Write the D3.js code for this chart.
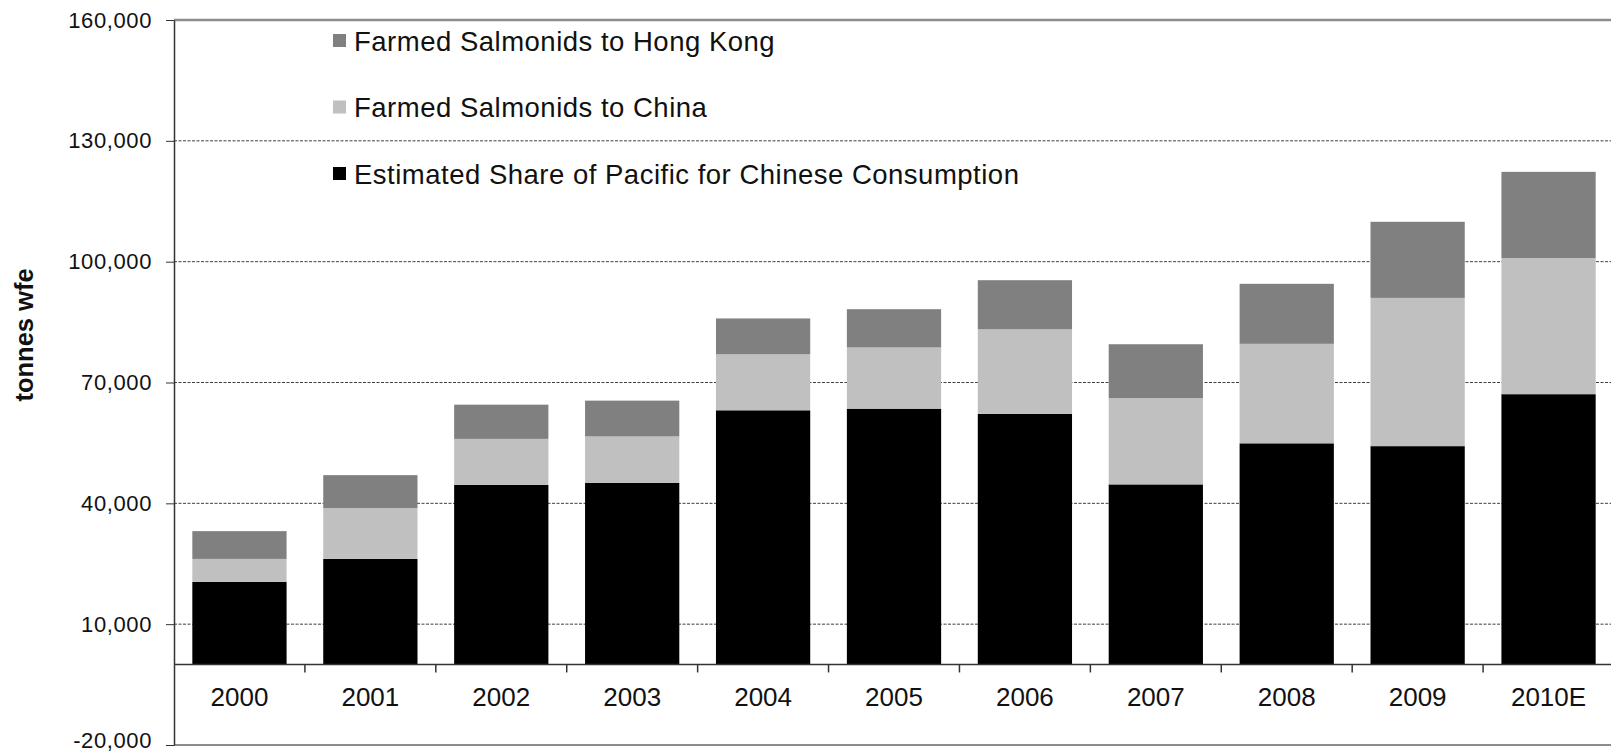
<!DOCTYPE html>
<html>
<head>
<meta charset="utf-8">
<script src="https://cdn.jsdelivr.net/npm/d3@7"></script>
<style>
  html, body { margin: 0; padding: 0; background: #fff; }
  svg { display: block; font-family: "Liberation Sans", Arial, sans-serif; }
</style>
</head>
<body>
<svg id="chart" width="1611" height="754"></svg>
<script>
// ---- data ----
const categories = ["2000", "2001", "2002", "2003", "2004", "2005", "2006", "2007", "2008", "2009", "2010E"];
const pacificShare = [20500, 26200, 44600, 45100, 63100, 63500, 62200, 44700, 54900, 54200, 67100];
const farmedChina = [5700, 12600, 11400, 11500, 13900, 15200, 21000, 21400, 24700, 36800, 33800];
const farmedHongKong = [6900, 8200, 8500, 8900, 8900, 9500, 12200, 13400, 14900, 18900, 21400];
const seriesKeys = ["pacific", "china", "hongKong"];
const seriesLabels = ["Estimated Share of Pacific for Chinese Consumption", "Farmed Salmonids to China", "Farmed Salmonids to Hong Kong"];
const seriesColors = ["#000000", "#c0c0c0", "#808080"];
const yTicks = [-20000, 10000, 40000, 70000, 100000, 130000, 160000];
const yTitle = "tonnes wfe";

// ---- layout ----
(function () {
const svg = d3.select("#chart");
const plotLeft = 174, plotRight = 1614, plotTop = 20, plotBottom = 745;

const rows = categories.map((c, i) => ({
  cat: c, pacific: pacificShare[i], china: farmedChina[i], hongKong: farmedHongKong[i]
}));
const stacked = d3.stack().keys(seriesKeys)(rows);

const x = d3.scaleBand().domain(categories).range([plotLeft, plotRight])
  .paddingInner(0.28).paddingOuter(0.14);
const y = d3.scaleLinear().domain([-20000, 160000]).range([plotBottom, plotTop]);
const color = d3.scaleOrdinal().domain(seriesKeys).range(seriesColors);

const fmt = d3.formatLocale({decimal: ".", thousands: ",", grouping: [3], currency: ["", ""], minus: "-"}).format(",");

// gridlines
svg.append("g").selectAll("line")
  .data(yTicks.filter(t => t > -20000 && t < 160000))
  .join("line")
  .attr("x1", plotLeft).attr("x2", plotRight)
  .attr("y1", d => y(d)).attr("y2", d => y(d))
  .attr("stroke", "#404040").attr("stroke-width", 1)
  .attr("stroke-dasharray", "3,1.5");

// bars
svg.append("g").selectAll("g")
  .data(stacked)
  .join("g")
  .attr("fill", d => color(d.key))
  .selectAll("rect")
  .data(d => d)
  .join("rect")
  .attr("x", d => x(d.data.cat))
  .attr("width", x.bandwidth())
  .attr("y", d => y(d[1]))
  .attr("height", d => y(d[0]) - y(d[1]));

// frame: top and bottom borders
svg.append("line").attr("x1", plotLeft).attr("x2", plotRight).attr("y1", y(160000)).attr("y2", y(160000))
  .attr("stroke", "#8c8c8c").attr("stroke-width", 2.5);
svg.append("line").attr("x1", plotLeft).attr("x2", plotRight).attr("y1", y(-20000)).attr("y2", y(-20000))
  .attr("stroke", "#8c8c8c").attr("stroke-width", 2);

// y axis
const yAxis = svg.append("g").attr("transform", `translate(${plotLeft},0)`)
  .call(d3.axisLeft(y).tickValues(yTicks).tickFormat(fmt).tickSize(8).tickSizeOuter(0).tickPadding(14));
yAxis.select(".domain").attr("stroke", "#333").attr("stroke-width", 1.5);
yAxis.selectAll(".tick line").attr("stroke", "#333");
yAxis.selectAll(".tick text").attr("font-size", 22).attr("letter-spacing", 0.6).attr("fill", "#111");
// keep the lowest label inside the picture
yAxis.selectAll(".tick text").filter(d => d === -20000).attr("dy", "0.12em");

// x axis at zero
const x0 = y(0);
const xAxis = svg.append("g").attr("transform", `translate(0,${x0})`)
  .call(d3.axisBottom(x).tickSize(0).tickPadding(23));
xAxis.select(".domain").remove();
xAxis.selectAll(".tick text").attr("font-size", 26).attr("fill", "#111");
svg.append("line").attr("x1", plotLeft).attr("x2", plotRight).attr("y1", x0).attr("y2", x0)
  .attr("stroke", "#333").attr("stroke-width", 1.5);
// category boundary ticks
svg.append("g").selectAll("line")
  .data(d3.range(1, categories.length))
  .join("line")
  .attr("x1", i => x.range()[0] + i * x.step())
  .attr("x2", i => x.range()[0] + i * x.step())
  .attr("y1", x0).attr("y2", x0 + 8)
  .attr("stroke", "#333").attr("stroke-width", 1.5);

// y title
svg.append("text")
  .attr("transform", `translate(33,335) rotate(-90)`)
  .attr("text-anchor", "middle")
  .attr("font-size", 25.5).attr("font-weight", "bold").attr("fill", "#111")
  .text(yTitle);

// legend (top to bottom: Hong Kong, China, Pacific)
const legendOrder = [2, 1, 0];
const legend = svg.append("g").selectAll("g")
  .data(legendOrder)
  .join("g")
  .attr("transform", (d, i) => `translate(333,${41 + i * 66.5})`);
legend.append("rect").attr("x", 0).attr("y", -7).attr("width", 13).attr("height", 13)
  .attr("fill", d => seriesColors[d]);
legend.append("text").attr("x", 21).attr("y", 0).attr("dy", "0.36em")
  .attr("font-size", 27.5).attr("letter-spacing", 0.5).attr("fill", "#111")
  .text(d => seriesLabels[d]);
})();
</script>
</body>
</html>
